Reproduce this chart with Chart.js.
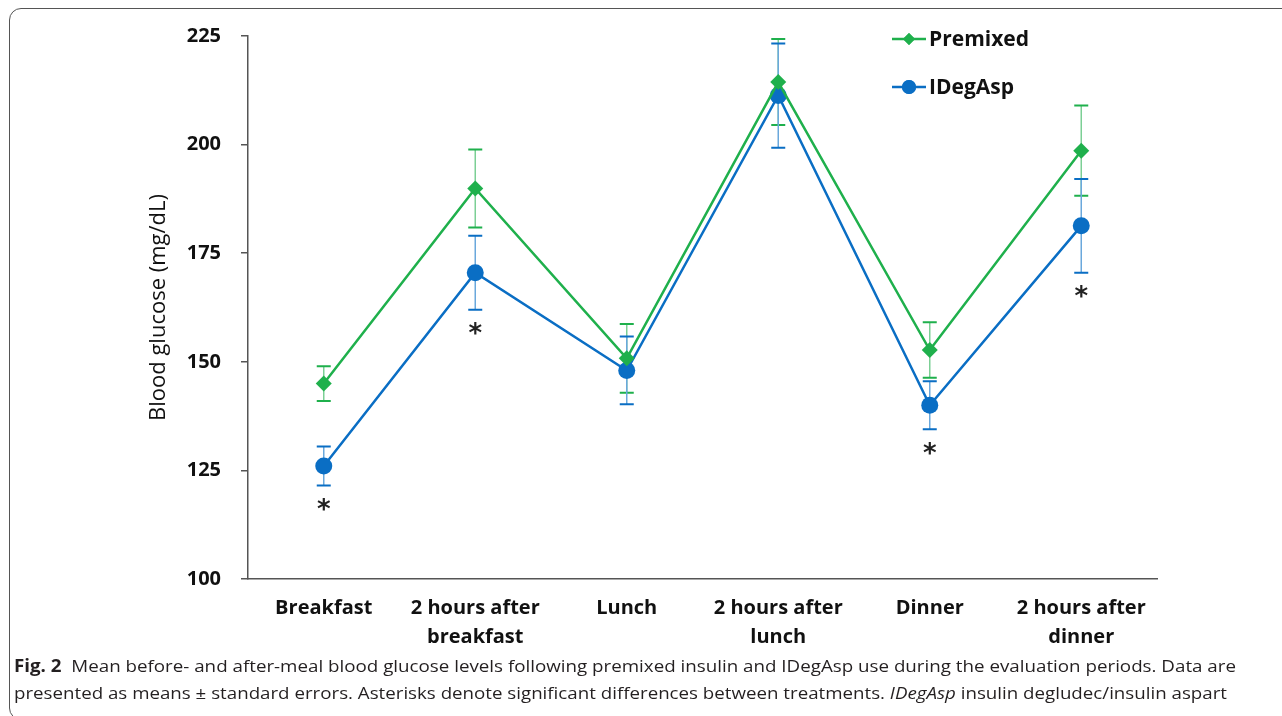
<!DOCTYPE html>
<html>
<head>
<meta charset="utf-8">
<script src="https://cdn.jsdelivr.net/npm/chart.js@4.4.1/dist/chart.umd.min.js"></script>
<style>
  html, body { margin: 0; padding: 0; background: #fff; width: 1282px; height: 716px; overflow: hidden; }
  #frame { position: absolute; left: 9px; top: 8px; width: 1320px; height: 712px; border: 1.5px solid #555; border-radius: 12px; box-sizing: border-box; }
  #wrap { position: absolute; left: 0; top: 0; width: 1282px; height: 716px; }
  .cap { position: absolute; left: 14px; white-space: nowrap; font-family: "Open Sans", sans-serif; font-size: 17px; color: #231f20; transform-origin: 0 50%; }
  .cap b { font-weight: 700; }
</style>
</head>
<body>
<div id="frame"></div>
<div id="wrap"><canvas id="c" width="1282" height="716"></canvas></div>
<div class="cap" id="cap1" style="top:654px;"><b>Fig. 2</b>&nbsp; Mean before- and after-meal blood glucose levels following premixed insulin and IDegAsp use during the evaluation periods. Data are</div>
<div class="cap" id="cap2" style="top:681px;">presented as means ± standard errors. Asterisks denote significant differences between treatments. <i>IDegAsp</i> insulin degludec/insulin aspart</div>
<script>
const categories = ["Breakfast", ["2 hours after", "breakfast"], "Lunch", ["2 hours after", "lunch"], "Dinner", ["2 hours after", "dinner"]];
const premixed = [145.0, 189.9, 150.8, 214.4, 152.7, 198.6];
const premixedSE = [4.0, 9.0, 7.9, 9.9, 6.4, 10.4];
const idegasp = [126.0, 170.5, 148.0, 211.3, 140.0, 181.3];
const idegaspSE = [4.5, 8.5, 7.8, 12.0, 5.5, 10.8];
const significant = [true, true, false, false, true, true];
const yTicks = [100, 125, 150, 175, 200, 225];
const seriesNames = ["Premixed", "IDegAsp"];

const GREEN = "#1fb04c";
const BLUE = "#0a6ec4";
const GREEN_LIGHT = "#7ccf95";
const BLUE_LIGHT = "#6aa8dc";

function fitCap(id, target) {
  const el = document.getElementById(id);
  const w = el.getBoundingClientRect().width;
  el.style.transform = "scaleX(" + (target / w) + ")";
}
fitCap("cap1", 1222);
fitCap("cap2", 1213);

const errorBars = {
  id: "errorBars",
  beforeDatasetsDraw(chart) {
    const ctx = chart.ctx;
    const x = chart.scales.x, y = chart.scales.y;
    const sets = [[premixed, premixedSE, GREEN, GREEN_LIGHT], [idegasp, idegaspSE, BLUE, BLUE_LIGHT]];
    ctx.save();
    sets.forEach(([vals, se, col, light]) => {
      vals.forEach((v, i) => {
        const px = x.getPixelForValue(i);
        const top = y.getPixelForValue(v + se[i]);
        const bot = y.getPixelForValue(v - se[i]);
        ctx.strokeStyle = light;
        ctx.lineWidth = 1.5;
        ctx.beginPath(); ctx.moveTo(px, top); ctx.lineTo(px, bot); ctx.stroke();
        ctx.strokeStyle = col;
        ctx.lineWidth = 2;
        ctx.beginPath();
        ctx.moveTo(px - 7, top); ctx.lineTo(px + 7, top);
        ctx.moveTo(px - 7, bot); ctx.lineTo(px + 7, bot);
        ctx.stroke();
      });
    });
    ctx.restore();
  },
  afterDatasetsDraw(chart) {
    const ctx = chart.ctx;
    const x = chart.scales.x, y = chart.scales.y;
    ctx.save();
    ctx.fillStyle = "#222";
    ctx.font = "bold 26px 'DejaVu Sans'";
    ctx.textAlign = "center";
    ctx.textBaseline = "middle";
    significant.forEach((s, i) => {
      if (!s) return;
      const px = x.getPixelForValue(i);
      const bot = y.getPixelForValue(idegasp[i] - idegaspSE[i]);
      ctx.fillText("*", px, bot + 26);
    });
    const items = [[seriesNames[0], GREEN, "rectRot", 6, 39], [seriesNames[1], BLUE, "circle", 7, 87]];
    items.forEach(([name, col, style, r, ly]) => {
      ctx.strokeStyle = col;
      ctx.lineWidth = 2.5;
      ctx.beginPath(); ctx.moveTo(892, ly); ctx.lineTo(926, ly); ctx.stroke();
      ctx.fillStyle = col;
      Chart.helpers.drawPoint(ctx, { pointStyle: style, radius: r, borderWidth: 0 }, 909, ly);
      ctx.fill();
      ctx.fillStyle = "#111";
      ctx.font = "bold 21px 'Open Sans'";
      ctx.textAlign = "left";
      ctx.textBaseline = "middle";
      ctx.fillText(name, 929, ly + 1);
    });
    ctx.restore();
  }
};

new Chart(document.getElementById("c"), {
  type: "line",
  data: {
    labels: categories,
    datasets: [
      { label: seriesNames[0], data: premixed, borderColor: GREEN, backgroundColor: GREEN, borderWidth: 2.5,
        pointStyle: "rectRot", pointRadius: 8, pointBorderWidth: 0, tension: 0 },
      { label: seriesNames[1], data: idegasp, borderColor: BLUE, backgroundColor: BLUE, borderWidth: 2.5,
        pointStyle: "circle", pointRadius: 8.5, pointBorderWidth: 0, tension: 0 }
    ]
  },
  options: {
    responsive: false,
    animation: false,
    events: [],
    layout: { padding: { left: 142, top: 36, right: 125, bottom: 55 } },
    plugins: { legend: { display: false }, tooltip: { enabled: false } },
    scales: {
      x: {
        offset: true,
        grid: { display: false },
        border: { display: true, color: "#555", width: 1.5 },
        ticks: { color: "#111", font: { family: "Open Sans", weight: "bold", size: 20, lineHeight: 1.45 }, padding: 7, maxRotation: 0, autoSkip: false },
        afterFit(s) { s.height = 82; }
      },
      y: {
        min: 100, max: 225,
        afterBuildTicks(s) { s.ticks = yTicks.map(v => ({ value: v })); },
        grid: { drawOnChartArea: false, drawTicks: true, tickLength: 7, color: "#555", lineWidth: 1.5 },
        border: { display: true, color: "#555", width: 1.5 },
        ticks: { color: "#111", font: { family: "Open Sans", weight: "bold", size: 20 }, padding: 20 },
        title: { display: true, text: "Blood glucose (mg/dL)", color: "#111", font: { family: "Open Sans", size: 22 }, padding: { top: 4, bottom: 0 } },
        afterFit(s) { s.width = 106; }
      }
    }
  },
  plugins: [errorBars]
});
</script>
</body>
</html>
